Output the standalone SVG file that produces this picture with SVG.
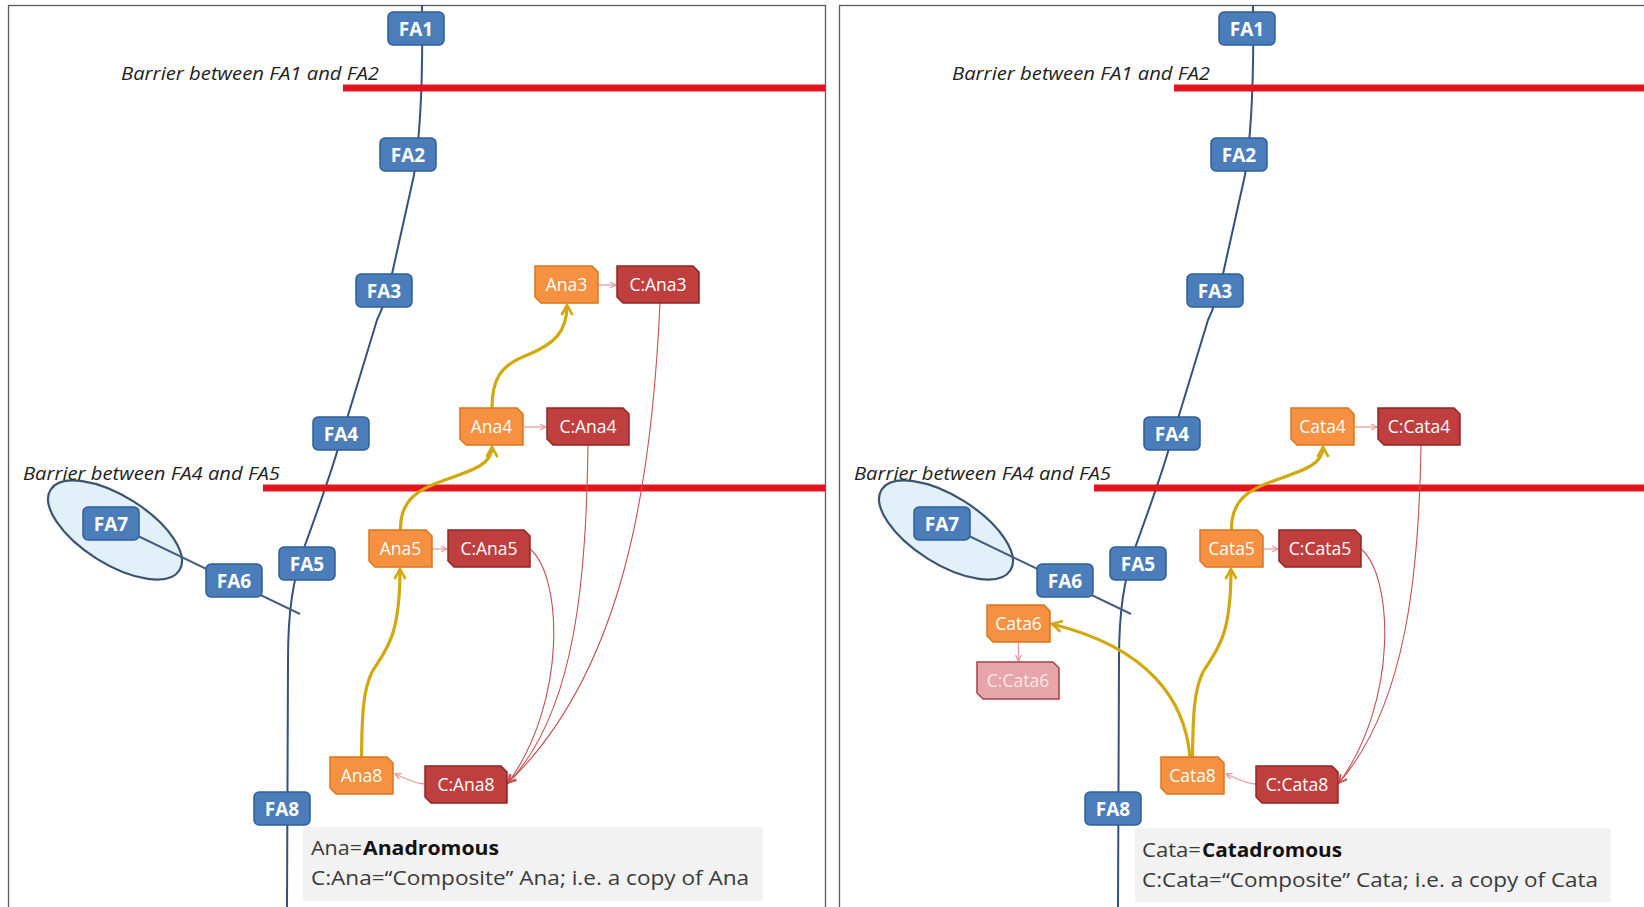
<svg xmlns="http://www.w3.org/2000/svg" width="1644" height="907" viewBox="0 0 1644 907">
<defs>
<style>
.frame{fill:#fff;stroke:#5a5a5a;stroke-width:1.3}
.river{fill:none;stroke:#33527c;stroke-width:2}
.trib{fill:none;stroke:#45607f;stroke-width:2}
.lake{fill:#e2f0f9;stroke:#3d5470;stroke-width:2.2}
.barrier{stroke:#e3141c;stroke-width:7;fill:none}
.blab{font-family:"Open Sans","Liberation Sans",sans-serif;font-style:italic;font-size:18px;fill:#222}
.fa rect{fill:#4a7dba;stroke:#2f5f99;stroke-width:1.5}
.fa text{font-family:"Open Sans","Liberation Sans",sans-serif;font-weight:bold;font-size:19px;fill:#fff;text-anchor:middle}
.or use{fill:#f59140;stroke:#d7761f;stroke-width:1.5}
.rd use{fill:#bf3f3f;stroke:#8e2626;stroke-width:1.5}
.pk use{fill:#e6a5a9;stroke:#a5424f;stroke-width:1.5}
.nd text{font-family:"Open Sans","Liberation Sans",sans-serif;font-size:17.5px;fill:#fff;text-anchor:middle}
.pk text{fill:#fbe6e6}
.yel{fill:none;stroke:#d1a90f;stroke-width:3.2;marker-end:url(#mY)}
.sm{fill:none;stroke:#e39b9b;stroke-width:1.3;marker-end:url(#mP)}
.thin{fill:none;stroke:#c55050;stroke-width:1.1;marker-end:url(#mR)}
.legbox{fill:#f2f2f2}
.leg{font-family:"Open Sans","Liberation Sans",sans-serif;font-size:20px;fill:#3a3a3a}
.legb{font-family:"Open Sans","Liberation Sans",sans-serif;font-size:20px;font-weight:bold;fill:#111}
</style>
<marker id="mY" viewBox="0 0 14 14" refX="12" refY="7" markerWidth="14" markerHeight="14" markerUnits="userSpaceOnUse" orient="auto"><path d="M2,1.5 L12,7 L2,12.5" fill="none" stroke="#d1a90f" stroke-width="2.6"/></marker>
<marker id="mP" viewBox="0 0 8 8" refX="7" refY="4" markerWidth="8" markerHeight="8" markerUnits="userSpaceOnUse" orient="auto"><path d="M1,1 L7,4 L1,7" fill="none" stroke="#e39b9b" stroke-width="1.3"/></marker>
<marker id="mR" viewBox="0 0 10 10" refX="9" refY="5" markerWidth="10" markerHeight="10" markerUnits="userSpaceOnUse" orient="auto"><path d="M1,1 L9,5 L1,9" fill="none" stroke="#c55050" stroke-width="1.3"/></marker>
<path id="snipO" d="M0,0 H57 L63,6 V37 H6 L0,31 Z"/>
<path id="snipR" d="M0,0 H76 L82,6 V37 H6 L0,31 Z"/>
</defs>
<rect width="1644" height="907" fill="#fff"/>

<!-- LEFT PANEL -->
<g id="panel-left">
<rect class="frame" x="8.5" y="5.5" width="817" height="920"/>
<ellipse id="L-lake" class="lake" cx="115" cy="530" rx="76" ry="34" transform="rotate(32 115 530)"/>
<g id="L-connectors">
<path class="river" d="M422,5 C423,70 421,130 414,175 L392,274 C386,300 382,310 377,320 L339,445 C332,470 316,515 304,548 C293,580 288,610 288,660 L287,907"/>
<path class="trib" d="M111,523 L300,614"/>
<path class="barrier" d="M343,88 H825"/>
<path class="barrier" d="M263,488 H825"/>
<path class="yel" d="M361.5,757 C362,715 363,690 372,672 C385,650 400,640 400,569"/>
<path class="yel" d="M400.5,530 C400,500 418,489 445,480 C477,469 492,463 492,447"/>
<path class="yel" d="M492,408 C492,380 500,366 525,356 C555,344 567,332 567,305"/>
<path class="sm" d="M598,285 L616,285"/>
<path class="sm" d="M524,427 L546,427"/>
<path class="sm" d="M432,549 L447,549"/>
<path class="sm" d="M425,784 C415,784 405,778 395,774"/>
<path class="thin" d="M660,303 C652,480 625,670 508,783"/>
<path class="thin" d="M588,445 C586,570 578,710 508,783"/>
<path class="thin" d="M530,549 C562,575 568,700 508,783"/>
</g>
<text class="blab" x="121" y="80" textLength="258" lengthAdjust="spacingAndGlyphs">Barrier between FA1 and FA2</text>
<text class="blab" x="23" y="480" textLength="257" lengthAdjust="spacingAndGlyphs">Barrier between FA4 and FA5</text>
<g id="L-FA1" class="fa"><rect x="388" y="12" width="56" height="33" rx="5"/><text x="416" y="35.5">FA1</text></g>
<g id="L-FA2" class="fa"><rect x="380" y="138" width="56" height="33" rx="5"/><text x="408" y="161.5">FA2</text></g>
<g id="L-FA3" class="fa"><rect x="356" y="274" width="56" height="33" rx="5"/><text x="384" y="297.5">FA3</text></g>
<g id="L-FA4" class="fa"><rect x="313" y="417" width="56" height="33" rx="5"/><text x="341" y="440.5">FA4</text></g>
<g id="L-FA5" class="fa"><rect x="279" y="547" width="56" height="33" rx="5"/><text x="307" y="570.5">FA5</text></g>
<g id="L-FA6" class="fa"><rect x="206" y="564" width="56" height="33" rx="5"/><text x="234" y="587.5">FA6</text></g>
<g id="L-FA7" class="fa"><rect x="83" y="507" width="56" height="33" rx="5"/><text x="111" y="530.5">FA7</text></g>
<g id="L-FA8" class="fa"><rect x="254" y="792" width="56" height="33" rx="5"/><text x="282" y="815.5">FA8</text></g>
<g id="Ana3" class="nd or" transform="translate(535,266)"><use href="#snipO"/><text x="31.5" y="24.8">Ana3</text></g>
<g id="C-Ana3" class="nd rd" transform="translate(617,266)"><use href="#snipR"/><text x="41" y="24.8">C:Ana3</text></g>
<g id="Ana4" class="nd or" transform="translate(460,408)"><use href="#snipO"/><text x="31.5" y="24.8">Ana4</text></g>
<g id="C-Ana4" class="nd rd" transform="translate(547,408)"><use href="#snipR"/><text x="41" y="24.8">C:Ana4</text></g>
<g id="Ana5" class="nd or" transform="translate(369,530)"><use href="#snipO"/><text x="31.5" y="24.8">Ana5</text></g>
<g id="C-Ana5" class="nd rd" transform="translate(448,530)"><use href="#snipR"/><text x="41" y="24.8">C:Ana5</text></g>
<g id="Ana8" class="nd or" transform="translate(330,757)"><use href="#snipO"/><text x="31.5" y="24.8">Ana8</text></g>
<g id="C-Ana8" class="nd rd" transform="translate(425,766)"><use href="#snipR"/><text x="41" y="24.8">C:Ana8</text></g>
<g id="L-legend">
<rect class="legbox" x="303" y="827" width="460" height="74"/>
<text class="leg" x="311" y="855" textLength="51" lengthAdjust="spacingAndGlyphs">Ana=</text>
<text class="legb" x="363" y="855" textLength="136" lengthAdjust="spacingAndGlyphs">Anadromous</text>
<text class="leg" x="311" y="885" textLength="438" lengthAdjust="spacingAndGlyphs">C:Ana=“Composite” Ana; i.e. a copy of Ana</text>
</g>
</g>

<!-- RIGHT PANEL -->
<g id="panel-right" transform="translate(831,0)">
<rect class="frame" x="8.5" y="5.5" width="900" height="920"/>
<ellipse id="R-lake" class="lake" cx="115" cy="530" rx="76" ry="34" transform="rotate(32 115 530)"/>
<g id="R-connectors">
<path class="river" d="M422,5 C423,70 421,130 414,175 L392,274 C386,300 382,310 377,320 L339,445 C332,470 316,515 304,548 C293,580 288,610 288,660 L287,907"/>
<path class="trib" d="M111,523 L300,614"/>
<path class="barrier" d="M343,88 H813"/>
<path class="barrier" d="M263,488 H813"/>
<path class="yel" d="M361.5,757 C362,715 363,690 372,672 C385,650 400,640 400,569"/>
<path class="yel" d="M400.5,530 C400,500 418,489 445,480 C477,469 492,463 492,447"/>
<path class="yel" d="M359,757 C354,700 318,648 221,624"/>
<path class="sm" d="M524,427 L546,427"/>
<path class="sm" d="M432,549 L447,549"/>
<path class="sm" d="M187.5,642 L187.5,661"/>
<path class="sm" d="M425,784 C415,784 405,778 395,774"/>
<path class="thin" d="M590,445 C588,575 575,705 508,783"/>
<path class="thin" d="M530,549 C562,575 568,700 508,783"/>
</g>
<text class="blab" x="121" y="80" textLength="258" lengthAdjust="spacingAndGlyphs">Barrier between FA1 and FA2</text>
<text class="blab" x="23" y="480" textLength="257" lengthAdjust="spacingAndGlyphs">Barrier between FA4 and FA5</text>
<g id="R-FA1" class="fa"><rect x="388" y="12" width="56" height="33" rx="5"/><text x="416" y="35.5">FA1</text></g>
<g id="R-FA2" class="fa"><rect x="380" y="138" width="56" height="33" rx="5"/><text x="408" y="161.5">FA2</text></g>
<g id="R-FA3" class="fa"><rect x="356" y="274" width="56" height="33" rx="5"/><text x="384" y="297.5">FA3</text></g>
<g id="R-FA4" class="fa"><rect x="313" y="417" width="56" height="33" rx="5"/><text x="341" y="440.5">FA4</text></g>
<g id="R-FA5" class="fa"><rect x="279" y="547" width="56" height="33" rx="5"/><text x="307" y="570.5">FA5</text></g>
<g id="R-FA6" class="fa"><rect x="206" y="564" width="56" height="33" rx="5"/><text x="234" y="587.5">FA6</text></g>
<g id="R-FA7" class="fa"><rect x="83" y="507" width="56" height="33" rx="5"/><text x="111" y="530.5">FA7</text></g>
<g id="R-FA8" class="fa"><rect x="254" y="792" width="56" height="33" rx="5"/><text x="282" y="815.5">FA8</text></g>
<g id="Cata4" class="nd or" transform="translate(460,408)"><use href="#snipO"/><text x="31.5" y="24.8">Cata4</text></g>
<g id="C-Cata4" class="nd rd" transform="translate(547,408)"><use href="#snipR"/><text x="41" y="24.8">C:Cata4</text></g>
<g id="Cata5" class="nd or" transform="translate(369,530)"><use href="#snipO"/><text x="31.5" y="24.8">Cata5</text></g>
<g id="C-Cata5" class="nd rd" transform="translate(448,530)"><use href="#snipR"/><text x="41" y="24.8">C:Cata5</text></g>
<g id="Cata6" class="nd or" transform="translate(156,605)"><use href="#snipO"/><text x="31.5" y="24.8">Cata6</text></g>
<g id="C-Cata6" class="nd pk" transform="translate(146,662)"><use href="#snipR"/><text x="41" y="24.8">C:Cata6</text></g>
<g id="Cata8" class="nd or" transform="translate(330,757)"><use href="#snipO"/><text x="31.5" y="24.8">Cata8</text></g>
<g id="C-Cata8" class="nd rd" transform="translate(425,766)"><use href="#snipR"/><text x="41" y="24.8">C:Cata8</text></g>
<g id="R-legend">
<rect class="legbox" x="304" y="828" width="476" height="74"/>
<text class="leg" x="311" y="857" textLength="59" lengthAdjust="spacingAndGlyphs">Cata=</text>
<text class="legb" x="371" y="857" textLength="140" lengthAdjust="spacingAndGlyphs">Catadromous</text>
<text class="leg" x="311" y="887" textLength="456" lengthAdjust="spacingAndGlyphs">C:Cata=“Composite” Cata; i.e. a copy of Cata</text>
</g>
</g>
</svg>
